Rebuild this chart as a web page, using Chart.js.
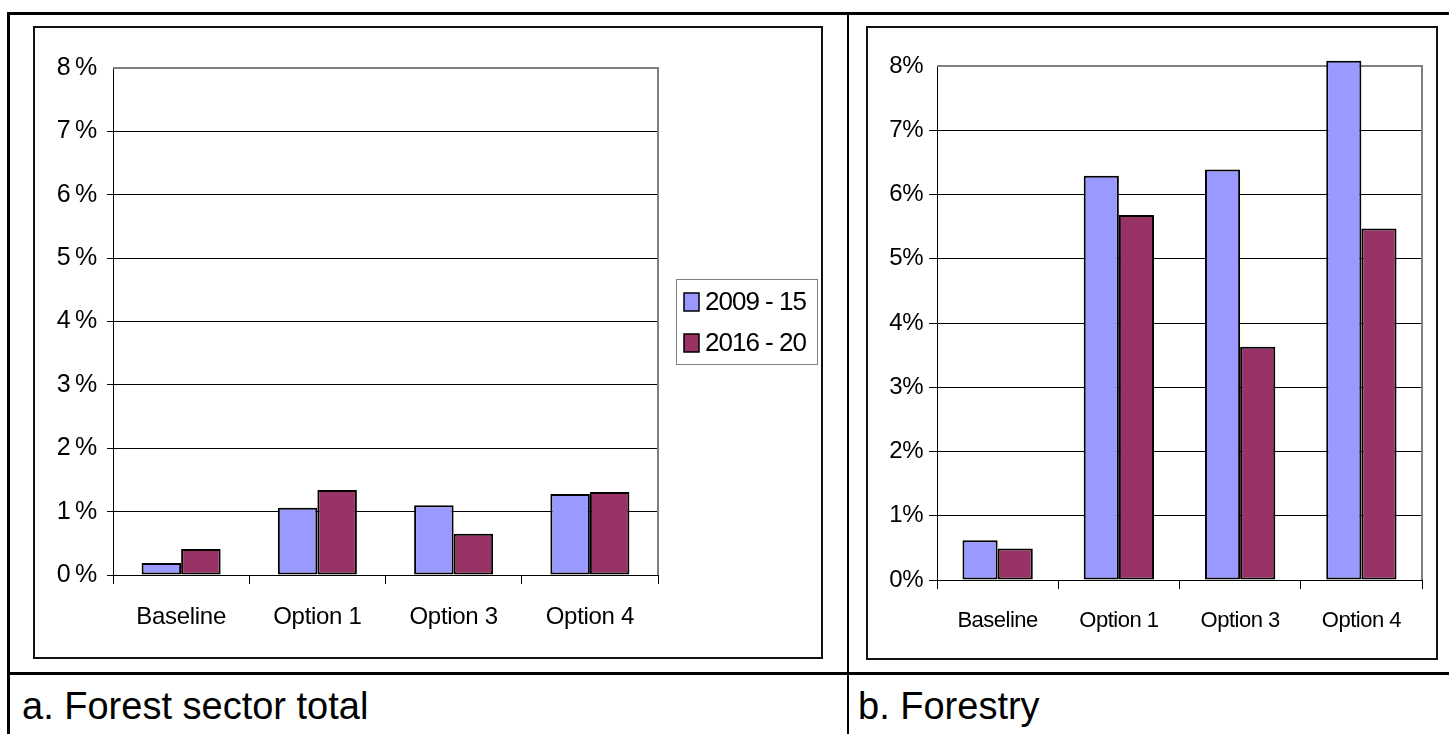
<!DOCTYPE html>
<html>
<head>
<meta charset="utf-8">
<script src="https://cdn.jsdelivr.net/npm/chart.js@4.4.1/dist/chart.umd.min.js"></script>
<style>
  body { margin: 0; width: 1449px; height: 734px; background: #fff; position: relative; overflow: hidden; }
  .rule { position: absolute; background: #000; }
  .box { position: absolute; border: 2px solid #111; box-sizing: border-box; }
  .box canvas { display: block; }
  .caption { position: absolute; font-family: "Liberation Sans", Arial, sans-serif; font-size: 38px; line-height: 38px; color: #000; white-space: nowrap; }
</style>
</head>
<body>
<div class="rule" style="left:7px; top:12px; width:1442px; height:3px"></div>
<div class="rule" style="left:7px; top:12px; width:3px; height:722px"></div>
<div class="rule" style="left:847px; top:12px; width:2px; height:722px"></div>
<div class="rule" style="left:7px; top:672px; width:1442px; height:3px"></div>

<div class="box" style="left:33px; top:26px; width:790px; height:633px">
  <canvas id="chartA" width="786" height="629"></canvas>
</div>
<div class="box" style="left:866px; top:26px; width:572px; height:634px">
  <canvas id="chartB" width="568" height="630"></canvas>
</div>

<div class="caption" style="left:22px; top:687px">a. Forest sector total</div>
<div class="caption" style="left:858px; top:687px">b. Forestry</div>

<script>
// categories and series (percent)
const categories = ["Baseline", "Option 1", "Option 3", "Option 4"];
const seriesLabels = ["2009 - 15", "2016 - 20"];

const sectorTotalEarly = [0.19, 1.06, 1.10, 1.28];
const sectorTotalLate = [0.41, 1.34, 0.65, 1.31];

const forestryEarly = [0.62, 6.29, 6.39, 8.08];
const forestryLate = [0.49, 5.68, 3.63, 5.47];

const yMin = 0;
const yMax = 8;
const yStep = 1;

const BLUE = "#9999FF";
const PLUM = "#993366";
const FONT = "'Liberation Sans', Arial, sans-serif";

// the original text is a little squeezed, so tighten the canvas letter spacing
const tightText = {
  id: "tightText",
  beforeUpdate(chart, _args, opts) { chart.ctx.letterSpacing = opts.spacing; },
  beforeDraw(chart, _args, opts) { chart.ctx.letterSpacing = opts.spacing; },
};

// gray frame on top / right of the plot area, like the old Excel plot area
const plotFrame = {
  id: "plotFrame",
  beforeDatasetsDraw(chart) {
    const { ctx, chartArea: a } = chart;
    ctx.save();
    ctx.strokeStyle = "#808080";
    ctx.lineWidth = 2;
    ctx.beginPath();
    ctx.moveTo(a.left, a.top);
    ctx.lineTo(a.right, a.top);
    ctx.lineTo(a.right, a.bottom);
    ctx.stroke();
    ctx.restore();
  },
};

// boxed legend placed to the right of the plot
const boxLegend = {
  id: "boxLegend",
  afterDraw(chart, _args, opts) {
    if (!opts.display) return;
    const { ctx, chartArea: a } = chart;
    const x = a.right + opts.offsetX;
    const y = opts.top;
    ctx.save();
    ctx.letterSpacing = opts.spacing;
    ctx.strokeStyle = "#808080";
    ctx.lineWidth = 1;
    ctx.strokeRect(x + 0.5, y + 0.5, opts.width, opts.height);
    ctx.font = opts.font;
    ctx.textBaseline = "middle";
    chart.data.datasets.forEach((ds, i) => {
      const cy = y + opts.firstRow + i * opts.rowGap;
      ctx.fillStyle = ds.backgroundColor;
      ctx.fillRect(x + 8, cy - 9, 15, 18);
      ctx.strokeStyle = "#000";
      ctx.lineWidth = 1.5;
      ctx.strokeRect(x + 8, cy - 9, 15, 18);
      ctx.fillStyle = "#000";
      ctx.fillText(ds.label, x + 29, cy + 1);
    });
    ctx.restore();
  },
};

function makeChart(canvas, early, late, look) {
  const bar = {
    borderColor: "#000",
    borderWidth: 2,
    borderSkipped: false,
    categoryPercentage: look.catPct,
    barPercentage: 1,
    clip: false,
  };
  return new Chart(canvas, {
    type: "bar",
    data: {
      labels: categories,
      datasets: [
        { ...bar, label: seriesLabels[0], data: early, backgroundColor: BLUE },
        { ...bar, label: seriesLabels[1], data: late, backgroundColor: PLUM },
      ],
    },
    options: {
      responsive: false,
      animation: false,
      events: [],
      layout: {
        padding: { left: 0, top: look.top, right: look.right, bottom: 0 },
      },
      plugins: {
        legend: { display: false },
        tooltip: { enabled: false },
        tightText: { spacing: look.spacing },
        boxLegend: look.legend,
      },
      scales: {
        x: {
          grid: {
            offset: true,
            drawOnChartArea: false,
            color: "#000",
            tickLength: 9,
          },
          border: { color: "#000", width: 1 },
          ticks: {
            color: "#000",
            padding: look.xPad,
            maxRotation: 0,
            autoSkip: false,
            font: { family: FONT, size: look.xFont },
          },
          afterFit(scale) { scale.height = look.xHeight; },
        },
        y: {
          min: yMin,
          max: yMax,
          grid: {
            color: (c) => (c.tick && c.tick.value === yMax ? "rgba(0,0,0,0)" : "#000"),
            tickLength: look.yTick,
          },
          border: { color: "#000", width: 1 },
          ticks: {
            stepSize: yStep,
            color: "#000",
            padding: look.yPad,
            font: { family: FONT, size: look.yFont },
            callback: (v) => v + look.unit,
          },
          afterFit(scale) { scale.width = look.yWidth; },
        },
      },
    },
    plugins: [tightText, plotFrame, boxLegend],
  });
}

makeChart(document.getElementById("chartA"), sectorTotalEarly, sectorTotalLate, {
  catPct: 0.58,
  spacing: "-0.3px",
  top: 40,
  right: 163,
  yWidth: 78,
  xHeight: 82,
  xPad: 19,
  xFont: 24,
  yFont: 25,
  yTick: 6,
  yPad: 10,
  unit: "\u2009%",
  legend: {
    display: true,
    spacing: "-1px",
    offsetX: 18,
    top: 251,
    width: 141,
    height: 85,
    firstRow: 23,
    rowGap: 41,
    font: "26px " + FONT,
  },
});

makeChart(document.getElementById("chartB"), forestryEarly, forestryLate, {
  catPct: 0.58,
  spacing: "-0.5px",
  top: 38,
  right: 14,
  yWidth: 69,
  xHeight: 78,
  xPad: 19,
  xFont: 22,
  yFont: 24,
  yTick: 8,
  yPad: 6,
  unit: "%",
  legend: { display: false },
});
</script>
</body>
</html>
